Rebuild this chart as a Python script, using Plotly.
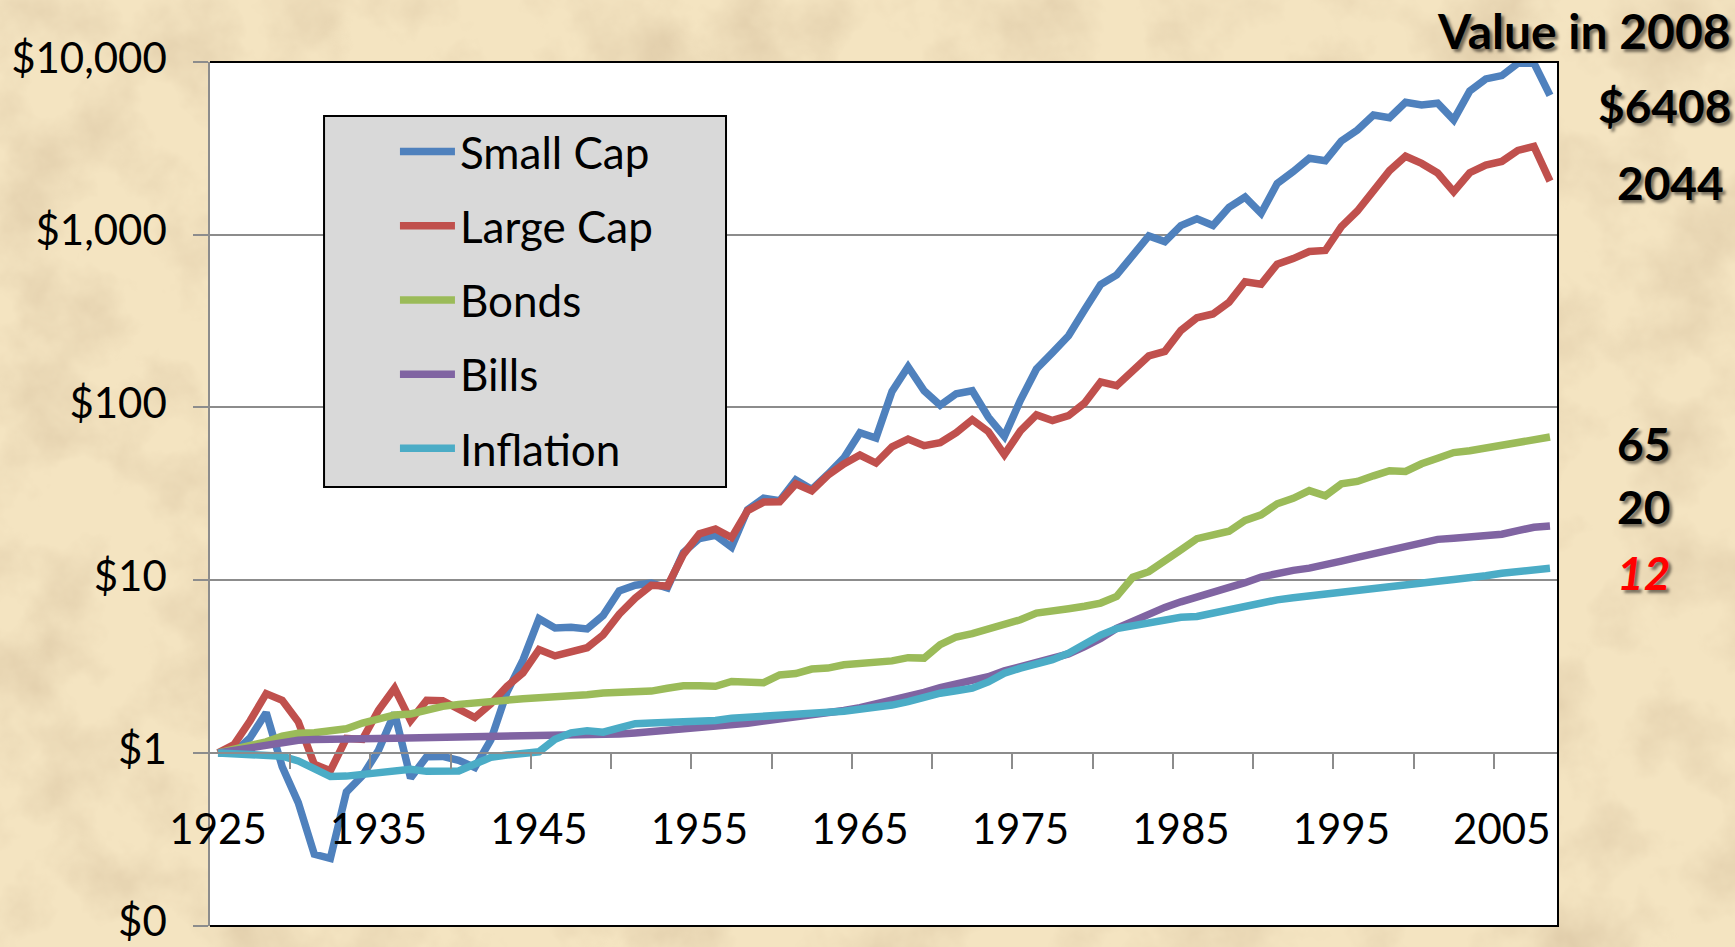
import base64
import plotly.graph_objects as go

# ---------------- data (values of $1 invested at end of 1925) ----------------
years = list(range(1925, 2009))

small_cap = [
    1.000, 1.003, 1.224, 1.710, 0.832, 0.515, 0.259, 0.245, 0.594, 0.738,
    1.035, 1.705, 0.716, 0.951, 0.954, 0.905, 0.823, 1.190, 2.242, 3.446,
    5.983, 5.287, 5.335, 5.223, 6.254, 8.677, 9.355, 9.638, 9.013, 14.47,
    17.43, 18.18, 15.53, 25.61, 29.80, 28.84, 38.09, 33.5, 41.0, 51.0,
    71.5, 66.5, 124, 172, 125, 103, 120, 125, 88, 68,
    110, 167, 208, 260, 368, 515, 585, 745, 985, 912,
    1130, 1235, 1130, 1440, 1650, 1330, 1980, 2320, 2770, 2680,
    3490, 4040, 4930, 4760, 5850, 5640, 5770, 4620, 6800, 7980,
    8340, 9820, 9850, 6408,
]

large_cap = [
    1.000, 1.117, 1.535, 2.204, 2.018, 1.516, 0.859, 0.789, 1.214, 1.197,
    1.767, 2.367, 1.538, 2.016, 2.008, 1.812, 1.602, 1.927, 2.427, 2.906,
    3.965, 3.645, 3.853, 4.065, 4.829, 6.360, 7.888, 9.336, 9.244, 14.11,
    18.56, 19.78, 17.65, 25.30, 28.32, 28.46, 36.11, 32.95, 40.47, 47.14,
    53.01, 47.67, 59.10, 65.64, 60.06, 62.47, 71.41, 84.96, 72.50, 53.31,
    73.14, 90.58, 84.08, 89.59, 106.1, 140.5, 133.6, 162.2, 198.7, 211.2,
    279.1, 330.7, 348.0, 406.5, 534.5, 517.5, 675.6, 727.4, 800.1, 810.5,
    1114, 1371, 1828, 2351, 2846, 2587, 2279, 1775, 2285, 2533,
    2658, 3077, 3246, 2044,
]

bonds = [
    1.00, 1.05, 1.11, 1.16, 1.25, 1.30, 1.31, 1.35, 1.38, 1.49,
    1.59, 1.66, 1.68, 1.78, 1.86, 1.91, 1.93, 1.96, 2.02, 2.06,
    2.08, 2.10, 2.14, 2.17, 2.22, 2.24, 2.26, 2.28, 2.37, 2.45,
    2.45, 2.43, 2.59, 2.57, 2.55, 2.83, 2.88, 3.06, 3.10, 3.24,
    3.27, 3.34, 3.41, 3.56, 3.54, 4.23, 4.69, 4.90, 5.17, 5.45,
    5.90, 6.45, 6.58, 6.84, 7.07, 7.37, 8.05, 10.4, 11.2, 12.8,
    15.0, 17.4, 18.1, 19.2, 22.2, 23.9, 27.7, 29.8, 33.0, 30.8,
    36.1, 37.3, 40.2, 43.0, 42.6, 47.2, 50.8, 54.8, 56.1, 58.1,
    59.4, 62.1, 65.0, 67.5,
]

bills = [
    1.000, 1.033, 1.065, 1.103, 1.155, 1.183, 1.196, 1.207, 1.210, 1.212,
    1.214, 1.216, 1.220, 1.220, 1.220, 1.220, 1.221, 1.225, 1.229, 1.233,
    1.237, 1.242, 1.248, 1.258, 1.272, 1.287, 1.306, 1.328, 1.352, 1.364,
    1.385, 1.419, 1.464, 1.486, 1.530, 1.571, 1.604, 1.648, 1.700, 1.760,
    1.829, 1.916, 1.997, 2.101, 2.239, 2.385, 2.490, 2.585, 2.764, 2.986,
    3.159, 3.319, 3.489, 3.740, 4.128, 4.592, 5.267, 5.822, 6.335, 6.959,
    7.496, 7.957, 8.393, 8.926, 9.673, 10.43, 11.01, 11.40, 11.75, 12.20,
    12.89, 13.56, 14.26, 14.96, 15.66, 16.58, 17.23, 17.51, 17.69, 17.92,
    18.47, 19.36, 20.24, 20.58,
]

inflation = [
    1.000, 0.985, 0.964, 0.955, 0.957, 0.899, 0.814, 0.730, 0.734, 0.749,
    0.771, 0.780, 0.804, 0.782, 0.778, 0.786, 0.862, 0.942, 0.972, 0.993,
    1.015, 1.199, 1.307, 1.343, 1.318, 1.395, 1.477, 1.490, 1.499, 1.492,
    1.497, 1.540, 1.586, 1.614, 1.638, 1.661, 1.672, 1.694, 1.722, 1.743,
    1.777, 1.836, 1.892, 1.981, 2.102, 2.218, 2.292, 2.370, 2.576, 2.894,
    3.097, 3.246, 3.466, 3.778, 4.281, 4.812, 5.243, 5.445, 5.652, 5.875,
    6.097, 6.164, 6.437, 6.725, 7.036, 7.469, 7.697, 7.923, 8.132, 8.345,
    8.556, 8.842, 8.992, 9.135, 9.379, 9.696, 9.853, 10.08, 10.27, 10.61,
    10.97, 11.25, 11.71, 11.72,
]

series_names = ["Small Cap", "Large Cap", "Bonds", "Bills", "Inflation"]
series_values = [small_cap, large_cap, bonds, bills, inflation]
series_colors = ["#4F81BD", "#C0504D", "#9BBB59", "#8064A2", "#4BACC6"]

y_tick_vals = [0.1, 1, 10, 100, 1000, 10000]
y_tick_text = ["$0", "$1", "$10", "$100", "$1,000", "$10,000"]
x_label_years = [1925, 1935, 1945, 1955, 1965, 1975, 1985, 1995, 2005]
x_label_text = [str(y) for y in x_label_years]
x_minor_ticks = [1929.5, 1934.5, 1939.5, 1944.5, 1949.5, 1954.5, 1959.5, 1964.5,
                 1969.5, 1974.5, 1979.5, 1984.5, 1989.5, 1994.5, 1999.5, 2004.5]

value_title = "Value in 2008"
value_labels = ["$6408", "2044", "65", "20", "12"]

# ---------------- styling ----------------
W, H = 1735, 947
ML, MR, MT, MB = 210, 177, 62, 21
PW, PH = W - ML - MR, H - MT - MB
FONT = "Lato, 'Open Sans', sans-serif"
GRID = "#8C8C8C"
SHADOW = "3px 3px 3px rgba(0,0,0,0.5)"
Y_LO, Y_HI = -1.002, 4.0

# parchment-like background texture (procedural SVG noise)
svg = (
    f'<svg xmlns="http://www.w3.org/2000/svg" width="{W}" height="{H}" viewBox="0 0 {W} {H}">'
    '<filter id="t" x="0" y="0" width="100%" height="100%">'
    '<feTurbulence type="fractalNoise" baseFrequency="0.011" numOctaves="5" seed="7"/>'
    '<feColorMatrix type="matrix" values="0 0 0 0 0.72  0 0 0 0 0.58  0 0 0 0 0.38  1.7 0 0 0 -0.72"/>'
    '</filter>'
    f'<rect width="{W}" height="{H}" fill="#F4E4C1"/>'
    f'<rect width="{W}" height="{H}" filter="url(#t)"/>'
    '</svg>'
)
bg_uri = "data:image/svg+xml;base64," + base64.b64encode(svg.encode()).decode()

fig = go.Figure()
for name, vals, col in zip(series_names, series_values, series_colors):
    fig.add_trace(go.Scatter(
        x=years, y=vals, name=name, mode="lines", legendgroup=name,
        line=dict(color=col, width=7.5),
    ))

fig.update_layout(
    width=W, height=H,
    margin=dict(l=ML, r=MR, t=MT, b=MB),
    paper_bgcolor="#EAD8B2",
    plot_bgcolor="white",
    font=dict(family=FONT, size=42, color="black"),
    showlegend=True,
    legend=dict(
        x=0.1372, y=0.937, xanchor="left", yanchor="top",
        bgcolor="rgba(0,0,0,0)", borderwidth=0,
        font=dict(family=FONT, size=44, color="black"),
        tracegroupgap=14, traceorder="grouped", itemwidth=55,
    ),
    xaxis=dict(
        range=[1924.5, 2008.5], anchor="free", position=(0 - Y_LO) / (Y_HI - Y_LO),
        tickmode="array", tickvals=x_label_years, ticktext=x_label_text,
        ticks="", showgrid=False, zeroline=False,
        showline=True, linecolor=GRID, linewidth=1.5,
        ticklabelstandoff=40,
        minor=dict(tickmode="array", tickvals=x_minor_ticks, ticks="outside",
                   ticklen=15, tickcolor=GRID, tickwidth=1.5, showgrid=False),
        automargin=False,
    ),
    yaxis=dict(
        type="log", range=[Y_LO, Y_HI],
        tickmode="array", tickvals=y_tick_vals, ticktext=y_tick_text,
        showgrid=True, gridcolor=GRID, gridwidth=1.5,
        ticks="outside", ticklen=15, tickcolor=GRID, tickwidth=1.5,
        showline=True, linecolor=GRID, linewidth=1.5, zeroline=False,
        ticklabelstandoff=18, ticklabelshift=-4, ticklabeloverflow="allow",
        automargin=False,
    ),
    images=[dict(
        source=bg_uri, xref="paper", yref="paper",
        x=-ML / PW, y=1 + MT / PH, sizex=W / PW, sizey=H / PH,
        xanchor="left", yanchor="top", sizing="stretch", layer="below",
    )],
    shapes=[
        # white plotting area over the texture
        dict(type="rect", xref="paper", yref="paper", x0=0, x1=1, y0=0, y1=1,
             fillcolor="white", line=dict(width=0), layer="below"),
        # plot frame (top, right, bottom)
        dict(type="path", path="M 0 1 L 1 1 L 1 0 L 0 0", xref="paper", yref="paper",
             line=dict(color="black", width=2), layer="above"),
        # legend panel
        dict(type="rect", xref="paper", yref="paper",
             x0=0.0846, x1=0.3828, y0=0.5081, y1=0.9375,
             fillcolor="#D9D9D9", line=dict(color="black", width=2), layer="above"),
    ],
)

bold = dict(family=FONT, size=46, color="black", weight="bold", shadow=SHADOW)
title_font = dict(family=FONT, size=48, color="black", weight="bold", shadow=SHADOW)
ann = [
    dict(text=value_title, x=1.1299, y=1.0359, xanchor="right", yanchor="middle", font=title_font),
    dict(text=value_labels[0], x=1.1299, y=0.9502, xanchor="right", yanchor="middle", font=bold),
    dict(text=value_labels[1], x=1.0423, y=0.8600, xanchor="left", yanchor="middle", font=bold),
    dict(text=value_labels[2], x=1.0423, y=0.5590, xanchor="left", yanchor="middle", font=bold),
    dict(text=value_labels[3], x=1.0423, y=0.4850, xanchor="left", yanchor="middle", font=bold),
    dict(text=value_labels[4], x=1.0423, y=0.4097, xanchor="left", yanchor="middle",
         font=dict(family=FONT, size=46, color="#FF0000", weight="bold", style="italic", shadow=SHADOW)),
]
for a in ann:
    a.update(xref="paper", yref="paper", showarrow=False)
fig.update_layout(annotations=ann)

fig.write_html(
    "out.html",
    config={"displayModeBar": False},
    post_script="document.body.style.margin='0';document.body.style.overflow='hidden';",
)
